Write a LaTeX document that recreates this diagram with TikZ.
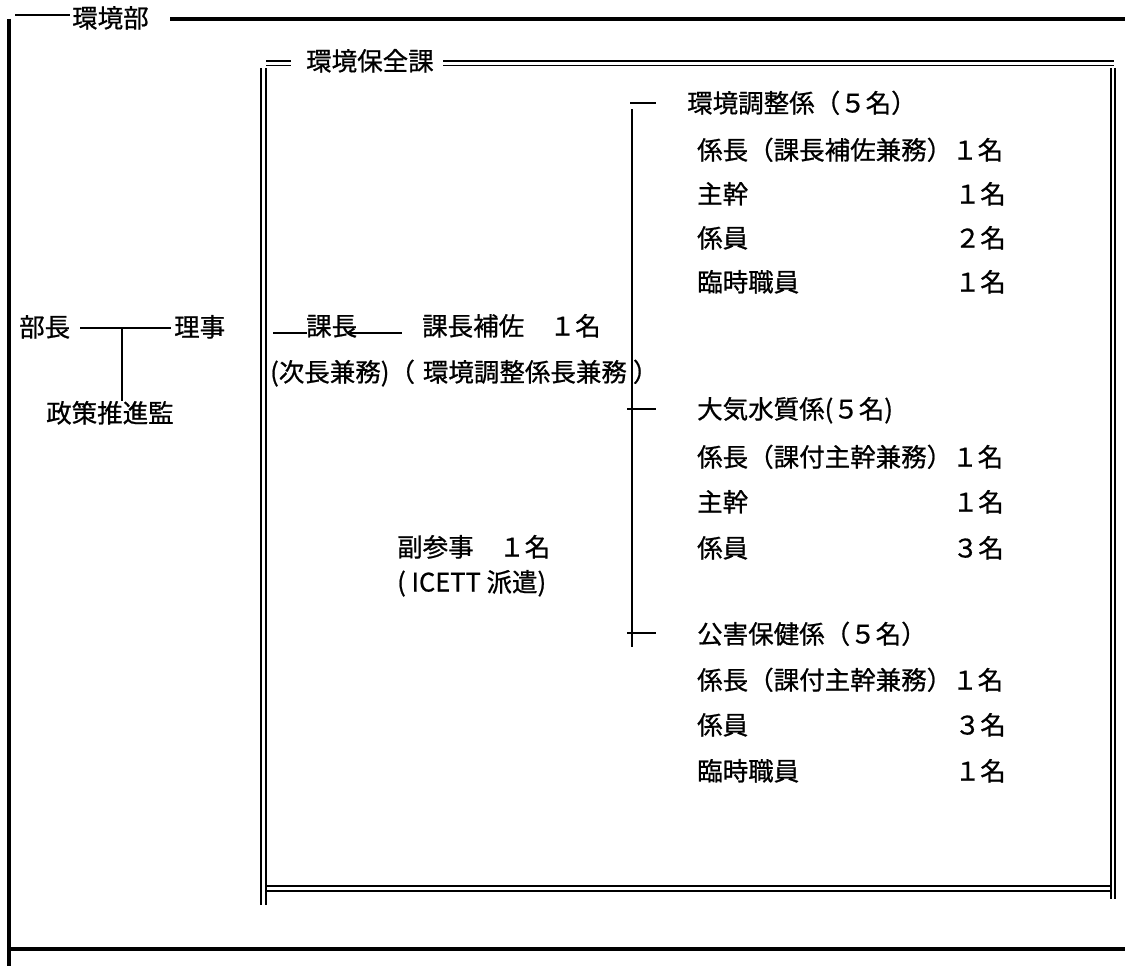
\documentclass[tikz,border=0pt]{standalone}
\usepackage{fontspec}
\setmainfont{Noto Sans CJK JP}[FakeBold=0.8]
\tikzset{
  lbl/.style={anchor=west, inner sep=0pt, text height=21pt, text depth=2pt, font=\fontsize{25.5}{30}\selectfont},
  num/.style={lbl, anchor=east},
  thickline/.style={line width=3.5pt},
  dbl/.style={line width=1.9pt},
  conn/.style={line width=1.7pt},
}
\begin{document}
\begin{tikzpicture}[x=1pt,y=-1pt]
\useasboundingbox (0,0) rectangle (1125,966);
% ---------- outer frame (環境部)
\node[lbl] (kankyobu) at (72,18) {環境部};
\draw[line width=2pt] (15,15) -- (70,15);
\draw[thickline] (170,19) -- (1125,19);
\draw[thickline] (9,19) -- (9,966);
\draw[thickline] (9,949) -- (1125,949);
% ---------- inner double frame (環境保全課)
\node[lbl] (hozenka) at (306,61) {環境保全課};
\draw[dbl] (266,61) -- (291,61);
\draw[dbl] (266,65.5) -- (291,65.5);
\draw[dbl] (443,61) -- (1114,61);
\draw[dbl] (443,65.5) -- (1114,65.5);
\draw[dbl] (261,68) -- (261,905);
\draw[dbl] (266,68) -- (266,905);
\draw[dbl] (1111,68) -- (1111,899);
\draw[dbl] (1115,68) -- (1115,899);
\draw[dbl] (266,886) -- (1111,886);
\draw[dbl] (266,891) -- (1111,891);
% ---------- left: 部長 group
\node[lbl] (bucho) at (19,327) {部長};
\node[lbl] (riji) at (174,327) {理事};
\node[lbl] (seisaku) at (46,413) {政策推進監};
\coordinate (b1) at (80,328);
\coordinate (b2) at (171,328);
\coordinate (bj) at (122,328);
\coordinate (b3) at (122,401);
\draw[conn] (b1) -- (b2);
\draw[conn] (bj) -- (b3);
% ---------- 課長
\node[lbl] (kacho) at (306,326) {課長};
\node[lbl] (hosa) at (422,326) {課長補佐　１名};
\node[lbl] (jicho) at (270,372) {(次長兼務)（\hspace{8pt}環境調整係長兼務\hspace{6pt}）};
\coordinate (k1) at (273,333);
\coordinate (k2) at (307,333);
\coordinate (k3) at (350,333);
\coordinate (k4) at (402,333);
\draw[conn] (k1) -- (k2);
\draw[conn] (k3) -- (k4);
% ---------- 副参事
\node[lbl] (fuku) at (397,547) {副参事　１名};
\node[lbl] (icett) at (397,582) {( ICETT 派遣)};
% ---------- right branch line
\coordinate (v0) at (632,109);
\coordinate (v1) at (632,647);
\draw[conn] (v0) -- (v1);
\coordinate (t0a) at (630,103); \coordinate (t0b) at (656,103);
\coordinate (t1a) at (627,409); \coordinate (t1b) at (656,409);
\coordinate (t2a) at (627,633); \coordinate (t2b) at (656,633);
\draw[conn] (t0a) -- (t0b);
\draw[conn] (t1a) -- (t1b);
\draw[conn] (t2a) -- (t2b);
% ---------- 環境調整係
\node[lbl] (kc0) at (687,103) {環境調整係（５名）};
\node[lbl] (kc1) at (697,150) {係長（課長補佐兼務）１名};
\node[lbl] (kc2) at (697,194) {主幹};
\node[num] (kc2n) at (1006,194) {１名};
\node[lbl] (kc3) at (697,238) {係員};
\node[num] (kc3n) at (1006,238) {２名};
\node[lbl] (kc4) at (697,282) {臨時職員};
\node[num] (kc4n) at (1006,282) {１名};
% ---------- 大気水質係
\node[lbl] (tk0) at (697,409) {大気水質係(５名)};
\node[lbl] (tk1) at (697,457) {係長（課付主幹兼務）１名};
\node[lbl] (tk2) at (697,502) {主幹};
\node[num] (tk2n) at (1004,502) {１名};
\node[lbl] (tk3) at (697,548) {係員};
\node[num] (tk3n) at (1004,548) {３名};
% ---------- 公害保健係
\node[lbl] (kg0) at (697,634) {公害保健係（５名）};
\node[lbl] (kg1) at (697,680) {係長（課付主幹兼務）１名};
\node[lbl] (kg2) at (697,725) {係員};
\node[num] (kg2n) at (1006,725) {３名};
\node[lbl] (kg3) at (697,771) {臨時職員};
\node[num] (kg3n) at (1006,771) {１名};
\end{tikzpicture}
\end{document}
